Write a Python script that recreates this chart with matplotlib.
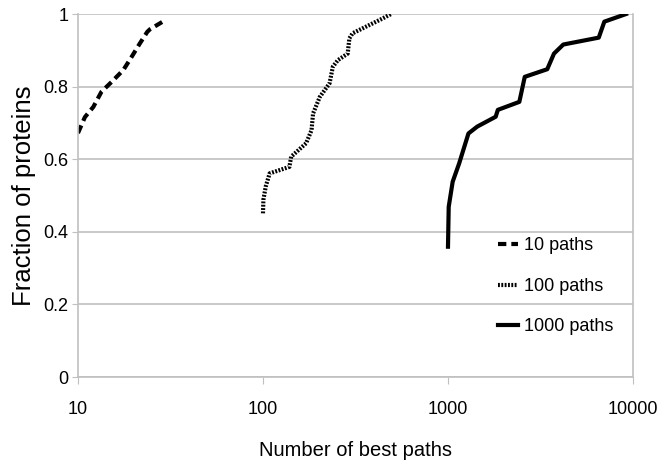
import matplotlib.pyplot as plt

plt.rcParams["font.family"] = ["Liberation Sans", "DejaVu Sans"]
plt.rcParams["font.size"] = 13

# data
x10 = [10, 10.9, 12.1, 13.4, 15.2, 17.6, 19.5, 21.6, 23.7, 24.5, 28.5]
y10 = [0.672, 0.716, 0.744, 0.786, 0.813, 0.846, 0.882, 0.919, 0.951, 0.958, 0.978]

x100 = [100, 100.5, 103.4, 108.6, 139, 142, 171, 183, 186.5, 203, 229, 238.6, 254, 287, 293, 305, 444, 492]
y100 = [0.451, 0.488, 0.524, 0.561, 0.579, 0.607, 0.644, 0.680, 0.726, 0.772, 0.809, 0.855, 0.873, 0.891, 0.933, 0.947, 0.988, 1.0]

x1000 = [1000, 1009, 1060, 1150, 1290, 1440, 1810, 1860, 2430, 2600, 3440, 3740, 4200, 6530, 7000, 9170]
y1000 = [0.359, 0.469, 0.538, 0.589, 0.671, 0.690, 0.717, 0.736, 0.758, 0.827, 0.848, 0.891, 0.916, 0.935, 0.979, 1.0]

xticks = [10, 100, 1000, 10000]
yticks = [0, 0.2, 0.4, 0.6, 0.8, 1]
ylabels = ["0", "0.2", "0.4", "0.6", "0.8", "1"]

fig = plt.figure(figsize=(6.58, 4.68), dpi=100)
ax = fig.add_axes([0.1185, 0.1944, 0.8435, 0.7756])

ax.plot(x10, y10, color="black", linewidth=3, dashes=(2.0, 1.2), label="10 paths")
ax.plot(x100, y100, color="black", linewidth=3, dashes=(0.45, 0.35), label="100 paths")
ax.plot(x1000, y1000, color="black", linewidth=3, label="1000 paths")

ax.set_xscale("log")
ax.set_xlim(10, 10000)
ax.set_ylim(0, 1)
ax.set_xticks(xticks, [str(t) for t in xticks])
ax.minorticks_off()
ax.set_yticks(yticks, ylabels)

ax.grid(axis="y", color="#c0c0c0", linewidth=1.2)
for s in ["left", "bottom", "right"]:
    ax.spines[s].set_color("#c0c0c0")
    ax.spines[s].set_linewidth(1.2)
ax.spines["top"].set_visible(False)
ax.tick_params(axis="x", colors="#c0c0c0", labelcolor="black", length=5, pad=12)
ax.tick_params(axis="y", colors="#c0c0c0", labelcolor="black", length=4, pad=3)

ax.set_xlabel("Number of best paths", fontsize=14.5, labelpad=17)
ax.set_ylabel("Fraction of proteins", fontsize=18.5, labelpad=5)

ax.legend(loc="lower right", bbox_to_anchor=(0.994, 0.07), frameon=False,
          handlelength=1.1, handletextpad=0.35, labelspacing=1.3)

fig.savefig("out.png", dpi=100)
